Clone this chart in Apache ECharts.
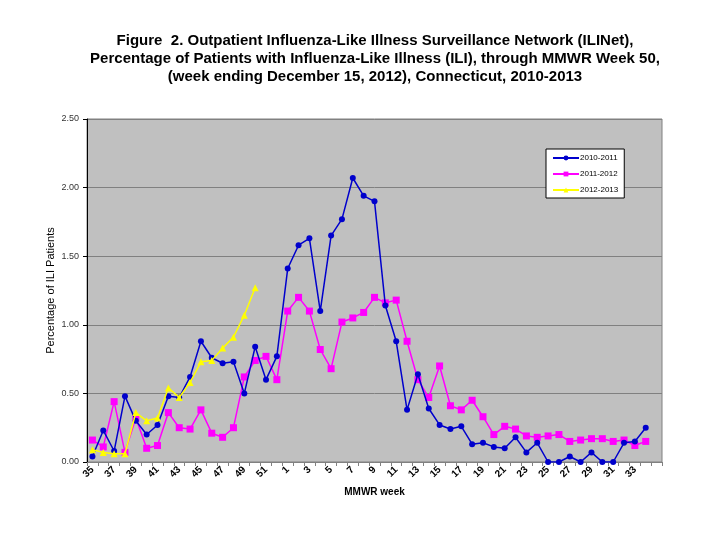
<!DOCTYPE html>
<html>
<head>
<meta charset="utf-8">
<script src="https://cdn.jsdelivr.net/npm/echarts@6/dist/echarts.min.js"></script>
<style>
  html, body { margin: 0; padding: 0; background: #fff; }
  #chart { width: 724px; height: 539px; }
</style>
</head>
<body>
<div id="chart"></div>
<script>
// MMWR weeks, season runs week 35 -> week 35 of next year
var weeks = ['35','36','37','38','39','40','41','42','43','44','45','46','47','48','49','50','51','52',
  '1','2','3','4','5','6','7','8','9','10','11','12','13','14','15','16','17','18','19','20',
  '21','22','23','24','25','26','27','28','29','30','31','32','33','34','35'];

var s2010 = [0.04,0.23,0.08,0.48,0.30,0.20,0.27,0.48,0.47,0.62,0.88,0.76,0.72,0.73,0.50,0.84,0.60,0.77,
  1.41,1.58,1.63,1.10,1.65,1.77,2.07,1.94,1.90,1.14,0.88,0.38,0.64,0.39,0.27,0.24,0.26,0.13,
  0.14,0.11,0.10,0.18,0.07,0.14,0.00,0.00,0.04,0.00,0.07,0.00,0.00,0.14,0.15,0.25];

var s2011 = [0.16,0.11,0.44,0.07,0.32,0.10,0.12,0.36,0.25,0.24,0.38,0.21,0.18,0.25,0.62,0.74,0.77,0.60,
  1.10,1.20,1.10,0.82,0.68,1.02,1.05,1.09,1.20,1.16,1.18,0.88,0.60,0.47,0.70,0.41,0.38,0.45,
  0.33,0.20,0.26,0.24,0.19,0.18,0.19,0.20,0.15,0.16,0.17,0.17,0.15,0.16,0.12,0.15];

var s2012 = [0.09,0.07,0.06,0.06,0.36,0.30,0.32,0.54,0.47,0.58,0.73,0.74,0.83,0.91,1.07,1.27];

var yTicks = ['0.00','0.50','1.00','1.50','2.00','2.50'];

var dom = document.getElementById('chart');
var myChart = echarts.init(dom);

var titleLines = [
  'Figure  2. Outpatient Influenza-Like Illness Surveillance Network (ILINet),',
  'Percentage of Patients with Influenza-Like Illness (ILI), through MMWR Week 50,',
  '(week ending December 15, 2012), Connecticut, 2010-2013'
];

var option = {
  animation: false,
  textStyle: { fontFamily: 'Liberation Sans, Arial, sans-serif' },
  title: {
    text: titleLines.join('\n'),
    left: 370,
    top: 27,
    textAlign: 'center',
    textStyle: {
      fontSize: 15,
      fontWeight: 'bold',
      color: '#000',
      lineHeight: 18,
      fontFamily: 'Liberation Sans, Arial, sans-serif'
    }
  },
  legend: {
    orient: 'vertical',
    left: 546,
    top: 149,
    padding: [5, 6, 4, 6],
    itemGap: 8,
    itemWidth: 26,
    itemHeight: 6,
    backgroundColor: '#fff',
    borderColor: '#000',
    borderWidth: 1,
    borderRadius: 0,
    textStyle: { fontSize: 8, color: '#000', padding: [0, 0, 0, -4] },
    data: ['2010-2011', '2011-2012', '2012-2013']
  },
  grid: {
    left: 87,
    right: 62,
    top: 119,
    bottom: 77,
    show: true,
    backgroundColor: '#c0c0c0',
    borderColor: '#808080',
    borderWidth: 1
  },
  xAxis: {
    type: 'category',
    data: weeks,
    boundaryGap: true,
    name: 'MMWR week',
    nameLocation: 'middle',
    nameMoveOverlap: false,
    nameGap: 25,
    nameTextStyle: { fontSize: 10, fontWeight: 'bold', color: '#000' },
    axisLine: { lineStyle: { color: '#808080', width: 1 } },
    axisTick: { show: true, interval: 0, length: 4, lineStyle: { color: '#808080' } },
    axisLabel: {
      interval: function (idx) { return idx % 2 === 0 && idx < 52; },
      rotate: 45,
      fontSize: 10,
      fontWeight: 'bold',
      color: '#000',
      margin: 6
    },
    splitLine: { show: false }
  },
  yAxis: {
    type: 'value',
    min: 0,
    max: 2.5,
    interval: 0.5,
    name: 'Percentage of ILI Patients',
    nameLocation: 'middle',
    nameMoveOverlap: false,
    nameGap: 31,
    nameTextStyle: { fontSize: 11, color: '#000' },
    axisLine: { show: true, lineStyle: { color: '#000', width: 1 } },
    axisTick: { show: true, length: 4, lineStyle: { color: '#000' } },
    axisLabel: {
      fontSize: 9,
      color: '#333',
      margin: 8,
      formatter: function (v) { return yTicks[Math.round(v / 0.5)]; }
    },
    splitLine: { show: true, lineStyle: { color: '#808080', width: 1 } }
  },
  series: [
    {
      name: '2010-2011',
      type: 'line',
      data: s2010,
      symbol: 'circle',
      symbolSize: 6,
      color: '#0000cc',
      lineStyle: { width: 1.5, color: '#0000cc' },
      itemStyle: { color: '#0000cc' },
      z: 3
    },
    {
      name: '2011-2012',
      type: 'line',
      data: s2011,
      symbol: 'rect',
      symbolSize: 7,
      color: '#ff00ff',
      lineStyle: { width: 1.5, color: '#ff00ff' },
      itemStyle: { color: '#ff00ff' },
      z: 2
    },
    {
      name: '2012-2013',
      type: 'line',
      data: s2012,
      symbol: 'triangle',
      symbolSize: 7,
      color: '#ffff00',
      lineStyle: { width: 1.5, color: '#ffff00' },
      itemStyle: { color: '#ffff00' },
      z: 4
    }
  ]
};

if (option && typeof option === 'object') {
  myChart.setOption(option, true);
}
</script>
</body>
</html>
